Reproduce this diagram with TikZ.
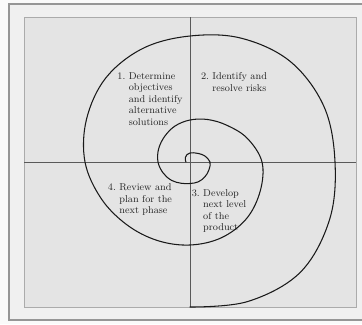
\documentclass[tikz,border=0pt]{standalone}
\usepackage{tikz}
\usepackage{xcolor}
\usetikzlibrary{positioning}
\definecolor{pagewhite}{RGB}{250,250,250}
\definecolor{bandgray}{RGB}{240,240,240}
\definecolor{panelgray}{RGB}{228,228,228}
\definecolor{framegray}{RGB}{150,150,150}
\tikzstyle{phase} = [align=left, inner sep=0pt, text=black!85, font=\fontsize{8.5}{9.8}\selectfont]
\tikzstyle{axis} = [draw=black!65, line width=0.45pt]
\tikzstyle{spiralline} = [draw=black!90, line width=0.9pt, line join=round, line cap=round]

\begin{document}
\begin{tikzpicture}[x=0.03cm, y=-0.03cm]

% Page and frames
\useasboundingbox (0,0) rectangle (362,324);
\fill[pagewhite] (0,0) rectangle (362,324);
\begin{scope}
\clip (0,0) rectangle (362,324);
\draw[framegray, line width=1.3pt, fill=bandgray] (9,4) rectangle (372,320);
\end{scope}
\draw[framegray!80, line width=0.6pt, fill=panelgray] (24,17) rectangle (356,307);

% Quadrant axes
\coordinate (centre) at (190,162);
\draw[axis] (190,17) -- (190,307);
\draw[axis] (24,162) -- (356,162);

% Spiral, polar points around the centre, from the outer end inwards
\begin{scope}[shift={(centre)}, yscale=-1]
\draw[spiralline] plot[smooth, tension=0.6] coordinates {
  (-90:145) (-67.5:151) (-45:156) (-22.5:151)
  (0:145) (22.5:145) (45:142) (67.5:134)
  (90:126) (112.5:123) (135:119) (157.5:112)
  (180:105) (202.5:96) (225:89) (247.5:85)
  (270:83) (292.5:82) (315:80) (337.5:76)
  (360:72) (382.5:62) (405:52) (427.5:46)
  (450:42) (472.5:39) (495:36) (517.5:34)
  (540:32) (562.5:29) (585:26) (607.5:23)
  (630:21.5) (652.5:21.5) (675:21) (697.5:20.5)
  (720:20) (742.5:16) (765:12) (787.5:10)
  (810:9) (832.5:8) (855:6.5) (877.5:5) (900:4)};
\end{scope}

% Phases
\node (objectives) [phase] at (150,100) {\begin{tabular}{@{}r@{\ }l@{}}1. & Determine\\ & objectives\\ & and identify\\ & alternative\\ & solutions\end{tabular}};
\node (risks) [phase] at (234,83) {\begin{tabular}{@{}r@{\ }l@{}}2. & Identify and\\ & resolve risks\end{tabular}};
\node (develop) [phase] at (219,211) {\begin{tabular}{@{}r@{\ }l@{}}3. & Develop\\ & next level\\ & of the\\ & product\end{tabular}};
\node (review) [phase] at (140,200) {\begin{tabular}{@{}r@{\ }l@{}}4. & Review and\\ & plan for the\\ & next phase\end{tabular}};

\end{tikzpicture}
\end{document}
